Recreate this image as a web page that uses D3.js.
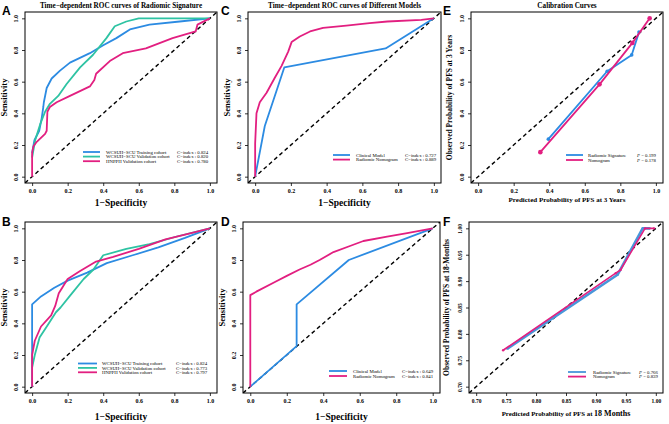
<!DOCTYPE html>
<html><head><meta charset="utf-8">
<script src="https://cdn.jsdelivr.net/npm/d3@7"></script>
<style>body{margin:0;background:#fff}svg{display:block}</style></head>
<body><svg id="c" width="669" height="424"></svg>
<script>
// ---------- DATA ----------
const rocTicks = [0, 0.2, 0.4, 0.6, 0.8, 1.0];
const calTicksE = [0, 0.2, 0.4, 0.6, 0.8, 1.0];
const calTicksF = [0.70, 0.75, 0.80, 0.85, 0.90, 0.95, 1.00];

// Panel A: time-dependent ROC of radiomic signature
const rocA_training = [[0,0.15],[0.013,0.23],[0.04,0.29],[0.054,0.37],[0.063,0.44],[0.066,0.47],[0.082,0.56],[0.11,0.62],[0.157,0.67],[0.213,0.72],[0.325,0.78],[0.4,0.83],[0.474,0.875],[0.55,0.93],[0.66,0.96],[0.83,0.98],[1,1]];
const rocA_validation = [[0,0.12],[0.017,0.23],[0.045,0.33],[0.073,0.41],[0.1,0.46],[0.147,0.51],[0.194,0.585],[0.27,0.69],[0.343,0.77],[0.418,0.875],[0.465,0.95],[0.53,0.98],[0.6,1.0],[1,1]];
const rocA_hnpph = [[0,0],[0,0.15],[0.007,0.19],[0.026,0.22],[0.073,0.27],[0.082,0.29],[0.086,0.41],[0.1,0.44],[0.138,0.47],[0.213,0.51],[0.325,0.57],[0.35,0.61],[0.36,0.65],[0.437,0.73],[0.51,0.78],[0.64,0.81],[0.79,0.875],[0.92,0.917],[0.93,0.96],[1,1]];
const cindexA = ["0.824", "0.820", "0.780"];

// Panel B
const rocB_training = [[0,0],[0,0.52],[0.05,0.57],[0.125,0.625],[0.2,0.67],[0.31,0.72],[0.42,0.78],[0.566,0.83],[0.71,0.88],[0.86,0.94],[1,1]];
const rocB_validation = [[0,0.12],[0.015,0.2],[0.042,0.31],[0.088,0.39],[0.134,0.47],[0.16,0.5],[0.217,0.58],[0.29,0.68],[0.345,0.74],[0.4,0.83],[0.53,0.87],[0.66,0.9],[0.82,0.95],[1,1]];
const rocB_hnpph = [[0,0],[0,0.2],[0.015,0.29],[0.05,0.38],[0.107,0.45],[0.13,0.51],[0.15,0.59],[0.2,0.68],[0.27,0.73],[0.36,0.79],[0.456,0.82],[0.6,0.87],[0.75,0.93],[0.86,0.96],[1,1]];
const cindexB = ["0.824", "0.773", "0.797"];

// Panel C: different models
const rocC_clinical = [[0,0],[0.054,0.32],[0.163,0.69],[0.73,0.81],[1,1]];
const rocC_nomogram = [[0,0],[0,0.21],[0.0075,0.4],[0.026,0.47],[0.064,0.53],[0.11,0.625],[0.148,0.7],[0.185,0.79],[0.204,0.85],[0.25,0.885],[0.307,0.917],[0.38,0.94],[0.51,0.954],[0.64,0.97],[0.74,0.98],[0.93,0.99],[1,1]];
const cindexC = ["0.727", "0.889"];

// Panel D
const rocD_clinical = [[0,0],[0.254,0.256],[0.254,0.52],[0.54,0.80],[1,1]];
const rocD_nomogram = [[0,0],[0,0.578],[0.033,0.6],[0.143,0.666],[0.2,0.7],[0.27,0.74],[0.33,0.77],[0.38,0.8],[0.456,0.85],[0.55,0.89],[0.62,0.92],[0.75,0.947],[0.86,0.97],[1,1]];
const cindexD = ["0.649", "0.841"];

// Panel E: calibration at 3 years
const calE_radiomic = [[0.395,0.237],[0.726,0.666],[0.864,0.769],[0.905,0.913]];
const calE_nomogram = [[0.35,0.155],[0.683,0.583],[0.868,0.845],[0.965,1.0]];
const pE = ["0.199", "0.178"];

// Panel F: calibration at 18 months
const calF_radiomic = [[0.752,0.772],[0.936,0.912],[0.978,1.0],[0.99,1.0]];
const calF_nomogram = [[0.745,0.769],[0.933,0.915],[0.941,0.921],[0.982,1.0],[0.997,1.0]];
const pF = ["0.766", "0.839"];

const cohortNames = ["WCSUH\u2212SCU Training cohort", "WCSUH\u2212SCU Validation cohort", "HNPPH Validation cohort"];
const modelNames = ["Clinical Model", "Radiomic Nomogram"];
const calNames = ["Radiomic Signature", "Nomogram"];

// ---------- STYLE ----------
const BLUE = "#2C8BE2", TEAL = "#2EC3A3", PINK = "#E21F80", BLUE_F = "#4896DA";
const SERIF = "'Liberation Serif','Times New Roman',serif";
const SANS = "'Liberation Sans',Arial,sans-serif";

const svg = d3.select("#c");

function drawPanel(o) {
  const g = svg.append("g");
  const [lo, hi] = o.domain;
  const pad = 0.04 * (hi - lo);
  const x = d3.scaleLinear().domain([lo - pad, hi + pad]).range([o.box[0], o.box[1]]);
  const y = d3.scaleLinear().domain([lo - pad, hi + pad]).range([o.box[3], o.box[2]]);
  const clipId = "clip" + o.letter;
  svg.append("clipPath").attr("id", clipId).append("rect")
    .attr("x", o.box[0]).attr("y", o.box[2]).attr("width", o.box[1] - o.box[0]).attr("height", o.box[3] - o.box[2]);

  // axes
  const xa = d3.axisBottom(x).tickValues(o.ticks).tickFormat(o.fmt).tickSize(3).tickPadding(3);
  const ya = d3.axisLeft(y).tickValues(o.ticks).tickFormat(o.fmt).tickSize(3).tickPadding(3);
  const gx = g.append("g").attr("transform", `translate(0,${o.box[3]})`).call(xa);
  const gy = g.append("g").attr("transform", `translate(${o.box[0]},0)`).call(ya);
  [gx, gy].forEach(a => {
    a.select(".domain").remove();
    a.selectAll("line").attr("stroke", "#000").attr("stroke-width", 0.8);
    a.selectAll("text").attr("font-family", SERIF).attr("font-weight", "bold").attr("font-size", o.tickFs || 6).attr("fill", "#000");
  });
  gy.selectAll("text").attr("text-anchor", "middle")
    .attr("transform", `translate(-9,0) rotate(-90)`).attr("x", 0).attr("y", 0).attr("dy", "0.35em");

  // diagonal
  g.append("line").attr("clip-path", `url(#${clipId})`)
    .attr("x1", x(lo - pad)).attr("y1", y(lo - pad)).attr("x2", x(hi + pad)).attr("y2", y(hi + pad))
    .attr("stroke", "#000").attr("stroke-width", 1.4).attr("stroke-dasharray", "4,3");

  // series
  const line = d3.line().x(d => x(d[0])).y(d => y(d[1]));
  o.series.forEach(s => {
    g.append("path").attr("clip-path", `url(#${clipId})`).datum(s.data).attr("d", line)
      .attr("fill", "none").attr("stroke", s.color).attr("stroke-width", s.w || 1.8).attr("stroke-linejoin", "round");
    if (s.points) {
      g.selectAll(null).data(s.data).enter().append("circle")
        .attr("cx", d => x(d[0])).attr("cy", d => y(d[1])).attr("r", s.r || 2.2).attr("fill", s.color);
    }
  });

  // box
  g.append("rect").attr("x", o.box[0]).attr("y", o.box[2]).attr("width", o.box[1] - o.box[0]).attr("height", o.box[3] - o.box[2])
    .attr("fill", "none").attr("stroke", "#000").attr("stroke-width", 1);

  // legend
  const L = o.legend;
  L.rows.forEach((r, i) => {
    const yy = L.y + i * L.dy;
    g.append("line").attr("x1", L.x0).attr("x2", L.x1).attr("y1", yy).attr("y2", yy).attr("stroke", r.color).attr("stroke-width", 1.8);
    g.append("text").attr("x", L.tx).attr("y", yy).attr("dy", "0.35em").text(r.name)
      .attr("font-family", SERIF).attr("font-size", 4.8);
    const st = g.append("text").attr("x", L.sx).attr("y", yy).attr("dy", "0.35em")
      .attr("font-family", SERIF).attr("font-size", 4.8);
    if (L.p) {
      st.append("tspan").attr("font-style", "italic").text("P");
      st.append("tspan").text(" = " + r.stat);
    } else st.text("C\u2212index : " + r.stat);
  });

  // labels
  const cx = (o.box[0] + o.box[1]) / 2, cy = (o.box[2] + o.box[3]) / 2;
  g.append("text").attr("x", cx).attr("y", o.box[2] - 4).attr("text-anchor", "middle").text(o.title || "")
    .attr("font-family", SERIF).attr("font-weight", "bold").attr("font-size", 7.2);
  const xl = g.append("text").attr("x", cx).attr("y", o.box[3] + o.xlOff).attr("text-anchor", "middle")
    .attr("font-family", SERIF).attr("font-weight", "bold").attr("font-size", o.xlFs);
  if (o.xlabelParts) {
    o.xlabelParts.forEach(p => xl.append("tspan").text(p.t).attr("font-size", p.fs || o.xlFs));
  } else xl.text(o.xlabel);
  g.append("text").attr("transform", `translate(${o.box[0] - o.ylOff},${cy}) rotate(-90)`).attr("text-anchor", "middle")
    .text(o.ylabel).attr("font-family", SERIF).attr("font-weight", "bold").attr("font-size", o.ylFs);
  g.append("text").attr("x", o.lp[0]).attr("y", o.lp[1]).text(o.letter)
    .attr("font-family", SANS).attr("font-weight", "bold").attr("font-size", 12);
}

const f1 = d3.format(".1f"), f2 = d3.format(".2f");

drawPanel({letter: "A", lp: [2, 15], box: [25, 217, 12, 183], domain: [0, 1], ticks: rocTicks, fmt: f1,
  title: "Time\u2212dependent ROC curves of Radiomic Signature",
  xlabel: "1\u2212Specificity", xlFs: 9.5, xlOff: 23, ylabel: "Sensitivity", ylFs: 8.5, ylOff: 18,
  series: [{data: rocA_training, color: BLUE}, {data: rocA_validation, color: TEAL}, {data: rocA_hnpph, color: PINK}],
  legend: {x0: 83, x1: 100, tx: 106, sx: 177, y: 152, dy: 4.6,
    rows: [{name: cohortNames[0], color: BLUE, stat: cindexA[0]}, {name: cohortNames[1], color: TEAL, stat: cindexA[1]}, {name: cohortNames[2], color: PINK, stat: cindexA[2]}]}});

drawPanel({letter: "B", lp: [2, 226], box: [25, 217, 222, 393], domain: [0, 1], ticks: rocTicks, fmt: f1,
  xlabel: "1\u2212Specificity", xlFs: 9.5, xlOff: 27, ylabel: "Sensitivity", ylFs: 8.5, ylOff: 18,
  series: [{data: rocB_training, color: BLUE}, {data: rocB_validation, color: TEAL}, {data: rocB_hnpph, color: PINK}],
  legend: {x0: 78, x1: 97, tx: 102, sx: 176, y: 363.5, dy: 4.4,
    rows: [{name: cohortNames[0], color: BLUE, stat: cindexB[0]}, {name: cohortNames[1], color: TEAL, stat: cindexB[1]}, {name: cohortNames[2], color: PINK, stat: cindexB[2]}]}});

drawPanel({letter: "C", lp: [221, 15], box: [248, 441, 12, 183], domain: [0, 1], ticks: rocTicks, fmt: f1,
  title: "Time\u2212dependent ROC curves of Different Models",
  xlabel: "1\u2212Specificity", xlFs: 9.5, xlOff: 23, ylabel: "Sensitivity", ylFs: 8.5, ylOff: 18,
  series: [{data: rocC_clinical, color: BLUE}, {data: rocC_nomogram, color: PINK}],
  legend: {x0: 333, x1: 350, tx: 356, sx: 405, y: 155, dy: 4.6,
    rows: [{name: modelNames[0], color: BLUE, stat: cindexC[0]}, {name: modelNames[1], color: PINK, stat: cindexC[1]}]}});

drawPanel({letter: "D", lp: [221, 226], box: [243, 440, 222, 393], domain: [0, 1], ticks: rocTicks, fmt: f1,
  xlabel: "1\u2212Specificity", xlFs: 9.5, xlOff: 27, ylabel: "Sensitivity", ylFs: 8.5, ylOff: 18,
  series: [{data: rocD_clinical, color: BLUE}, {data: rocD_nomogram, color: PINK}],
  legend: {x0: 329, x1: 347, tx: 353, sx: 402, y: 371, dy: 5,
    rows: [{name: modelNames[0], color: BLUE, stat: cindexD[0]}, {name: modelNames[1], color: PINK, stat: cindexD[1]}]}});

drawPanel({letter: "E", lp: [443, 15], box: [471, 663, 12, 183], domain: [0, 1], ticks: calTicksE, fmt: f1,
  title: "Calibration Curves",
  xlabel: "Predicted Probability of PFS at 3 Years", xlFs: 7, xlOff: 19, ylabel: "Observed Probability of PFS at 3 Years", ylFs: 7.5, ylOff: 19,
  series: [{data: calE_radiomic, color: BLUE, points: true, r: 1.8}, {data: calE_nomogram, color: PINK, points: true, r: 2.3}],
  legend: {x0: 566, x1: 583, tx: 588, sx: 637, y: 155, dy: 5, p: true,
    rows: [{name: calNames[0], color: BLUE, stat: pE[0]}, {name: calNames[1], color: PINK, stat: pE[1]}]}});

drawPanel({letter: "F", lp: [443, 226], box: [469, 663, 222, 393], domain: [0.7, 1.0], ticks: calTicksF, fmt: f2,
  xlabel: "", xlabelParts: [{t: "Predicted Probability of PFS at "}, {t: "18 Months", fs: 8}], xlFs: 6.8, xlOff: 23,
  ylabel: "Observed Probability of PFS at 18-Months", ylFs: 7.5, ylOff: 20, tickFs: 5.5,
  series: [{data: calF_radiomic, color: BLUE_F, w: 2.6, points: true, r: 1.2}, {data: calF_nomogram, color: PINK, w: 1.6, points: true, r: 1.2}],
  legend: {x0: 568, x1: 586, tx: 593, sx: 639, y: 372, dy: 4.6, p: true,
    rows: [{name: calNames[0], color: BLUE_F, stat: pF[0]}, {name: calNames[1], color: PINK, stat: pF[1]}]}});
</script></body></html>
